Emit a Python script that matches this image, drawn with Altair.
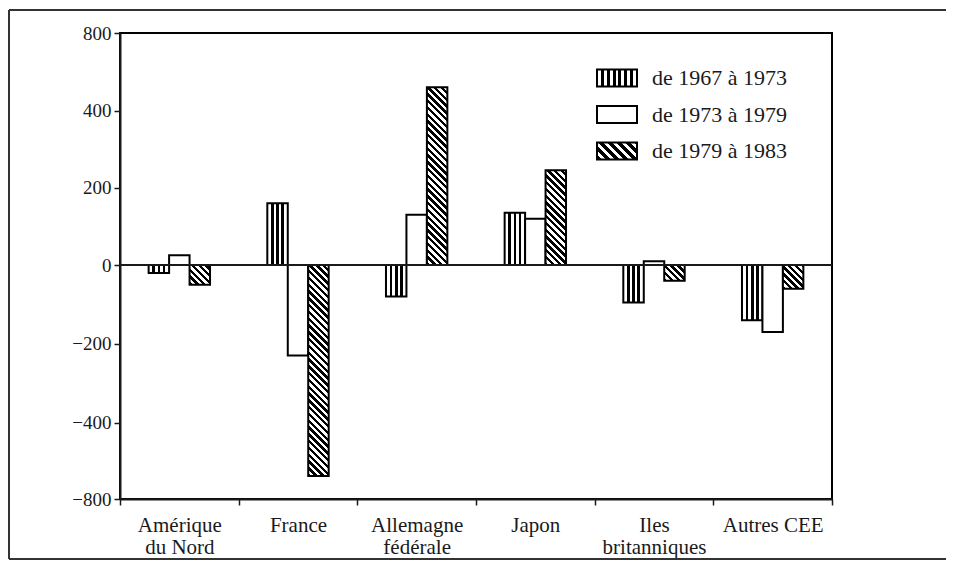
import altair as alt
import numpy as np

# ---------------- data ----------------
categories = ["Amérique|du Nord", "France", "Allemagne|fédérale", "Japon",
              "Iles|britanniques", "Autres CEE"]
series = ["de 1967 à 1973", "de 1973 à 1979", "de 1979 à 1983"]
v_1967_1973 = [-20, 160, -80, 135, -95, -140]
v_1973_1979 = [25, -230, 130, 120, 10, -170]
v_1979_1983 = [-50, -680, 520, 245, -40, -60]
y_ticks = [800, 400, 200, 0, -200, -400, -800]

# ---------------- layout / style ----------------
W, H = 712, 466
Y_DOMAIN = [-800, -400, 0, 400, 800]          # piecewise axis as in the original
Y_RANGE = [466, 389.5, 232, 77.5, 0]
FONT = "Liberation Serif"
INK = "#1a1a1a"
OFFSET_DOMAIN = ["_gap_left"] + series + ["_gap_right"]
OFFSET_PAD = 0.4
BAR_W = W / len(categories) / (len(OFFSET_DOMAIN) + 2 * OFFSET_PAD)


def ypix(v):
    return float(np.interp(v, Y_DOMAIN, Y_RANGE))


def vertical_stripes(n=4, lw=0.13):
    stops = [{"offset": 0, "color": "white"}]
    for k in range(1, n):
        c = k / n
        stops += [
            {"offset": c - lw / 2, "color": "white"},
            {"offset": c - lw / 2, "color": "black"},
            {"offset": c + lw / 2, "color": "black"},
            {"offset": c + lw / 2, "color": "white"},
        ]
    stops.append({"offset": 1, "color": "white"})
    return {"gradient": "linear", "x1": 0, "y1": 0, "x2": 1, "y2": 0, "stops": stops}


def hatch(w, h, period=6.8, black=0.5):
    h = max(h, 1.0)
    t = (w + h) / (w * w + h * h)
    n = (w + h) / period
    stops = []
    i = 0
    while i < n:
        a = min(i / n, 1)
        b = min((i + black) / n, 1)
        c = min((i + 1) / n, 1)
        stops += [
            {"offset": a, "color": "black"},
            {"offset": b, "color": "black"},
            {"offset": b, "color": "white"},
            {"offset": c, "color": "white"},
        ]
        i += 1
    return {"gradient": "linear", "x1": 0, "y1": 1, "x2": w * t, "y2": 1 - h * t,
            "stops": stops}


values = [v_1967_1973, v_1973_1979, v_1979_1983]
rows = []
for ci, cat in enumerate(categories):
    for si, s in enumerate(series):
        v = values[si][ci]
        if si == 0:
            fill = vertical_stripes()
        elif si == 1:
            fill = "white"
        else:
            fill = hatch(BAR_W, abs(ypix(v) - ypix(0)))
        rows.append({"cat": cat, "serie": s, "val": v, "fill": fill})

bars = alt.Chart(alt.Data(values=rows)).mark_bar(stroke="black", strokeWidth=2).encode(
    x=alt.X("cat:N", sort=categories,
            scale=alt.Scale(paddingInner=0, paddingOuter=0),
            axis=alt.Axis(title=None, labelExpr="split(datum.label, '|')",
                          labelFont=FONT, labelFontSize=21, labelLineHeight=22,
                          labelColor=INK, labelAngle=0, labelPadding=9,
                          labelBaseline="top", tickBand="extent", tickSize=6,
                          tickColor=INK, tickWidth=1.5, domainColor=INK,
                          domainWidth=2)),
    xOffset=alt.XOffset("serie:N",
                        scale=alt.Scale(domain=OFFSET_DOMAIN, paddingInner=0,
                                        paddingOuter=OFFSET_PAD)),
    y=alt.Y("val:Q", stack=None,
            scale=alt.Scale(domain=Y_DOMAIN, range=Y_RANGE, nice=False, zero=False),
            axis=alt.Axis(title=None, values=y_ticks, grid=False, labelFont=FONT,
                          labelFontSize=19, labelColor=INK, tickSize=6,
                          tickWidth=1.5, tickColor=INK, domainColor=INK,
                          domainWidth=2, labelPadding=3)),
    y2=alt.datum(0),
    fill=alt.Fill("fill:N", scale=None),
)

zero = alt.Chart(alt.Data(values=[{"z": 0}])).mark_rule(
    color=INK, strokeWidth=2).encode(y="z:Q")

one = alt.Data(values=[{"k": 1}])
frame_top = alt.Chart(one).mark_rule(color="#333", strokeWidth=2).encode(
    x=alt.value(-111), x2=alt.value(826), y=alt.value(-23))
frame_left = alt.Chart(one).mark_rule(color="#333", strokeWidth=2).encode(
    x=alt.value(-111), y=alt.value(-23), y2=alt.value(526))
frame_bottom = alt.Chart(one).mark_rule(color="#333", strokeWidth=2).encode(
    x=alt.value(-111), x2=alt.value(826), y=alt.value(526))

legend_fills = [vertical_stripes(n=7, lw=0.07), "white", hatch(40, 17, period=9)]
legend_layers = []
for i, (lab, f) in enumerate(zip(series, legend_fills)):
    yc = 45 + 36.5 * i
    legend_layers.append(
        alt.Chart(alt.Data(values=[{"label": lab}])).mark_rect(
            stroke="black", strokeWidth=2).encode(
            x=alt.value(477), x2=alt.value(517),
            y=alt.value(yc - 8.5), y2=alt.value(yc + 8.5),
            fill=alt.value(f)))
    legend_layers.append(
        alt.Chart(alt.Data(values=[{"label": lab}])).mark_text(
            align="left", baseline="middle", font=FONT, fontSize=22, color=INK).encode(
            x=alt.value(532), y=alt.value(yc), text="label:N"))

chart = alt.layer(bars, zero, frame_top, frame_left, frame_bottom, *legend_layers).properties(
    width=W, height=H,
    padding={"left": 112, "top": 25, "right": 115, "bottom": 62},
    autosize=alt.AutoSizeParams(type="none"),
    background="white",
).configure_view(stroke="black", strokeWidth=2)

chart.save("out.html", embed_options={"renderer": "svg", "actions": False})
